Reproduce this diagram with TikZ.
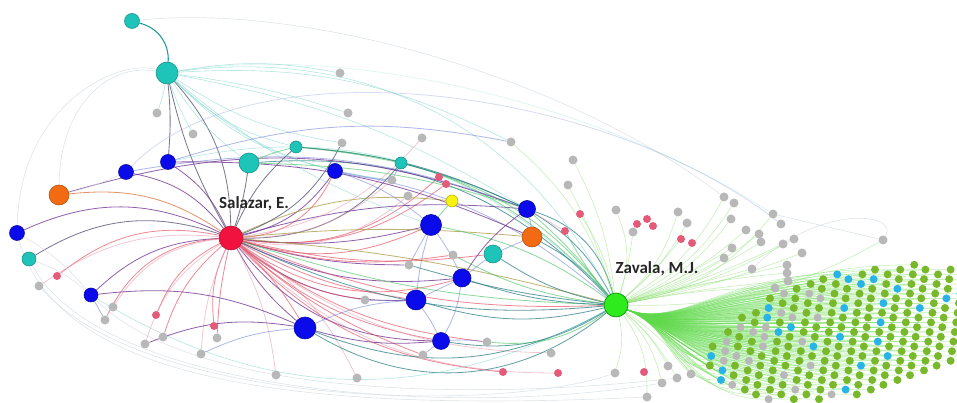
\documentclass[tikz,border=0pt]{standalone}
\usepackage{fontspec}
\newfontfamily\labfont{Carlito}
\newlength\pxl
\setlength\pxl{0.03cm}
\definecolor{cteal}{HTML}{1FC4B8}
\definecolor{cblue}{HTML}{0A0AEB}
\definecolor{corange}{HTML}{F26B12}
\definecolor{cyellow}{HTML}{F7F20F}
\definecolor{cred}{HTML}{F2123F}
\definecolor{cgreenZ}{HTML}{2EEB1E}
\definecolor{cgrey}{HTML}{B8B8B8}
\definecolor{cpink}{HTML}{E45A78}
\definecolor{cgdot}{HTML}{78B82A}
\definecolor{cbdot}{HTML}{2AB4E6}
\definecolor{epurple}{HTML}{6B2C8E}
\definecolor{ered}{HTML}{E24A5E}
\definecolor{epink}{HTML}{E79AAE}
\definecolor{enavy}{HTML}{4A4A6A}
\definecolor{eorange}{HTML}{D8703A}
\definecolor{eolive}{HTML}{A89A40}
\definecolor{eteal}{HTML}{2D7F86}
\definecolor{egreen}{HTML}{3DBF5A}
\definecolor{etlight}{HTML}{7FD6CC}
\definecolor{eblue}{HTML}{6070D0}
\definecolor{elgreen}{HTML}{8DDF72}
\definecolor{ebg}{HTML}{D5DDE3}
\definecolor{zfan}{HTML}{5FD84A}
\pgfdeclarelayer{bg}
\pgfsetlayers{bg,main}
\begin{document}
\begin{tikzpicture}[x=0.03cm,y=0.03cm,
  v/.style={circle,inner sep=0pt,line width=0.5pt},
  vteal/.style={v,fill=cteal,draw=cteal!75!black},
  vblue/.style={v,fill=cblue,draw=cblue!70!black},
  vorange/.style={v,fill=corange,draw=corange!75!black},
  vyellow/.style={v,fill=cyellow,draw=cyellow!75!black},
  vgrey/.style={circle,inner sep=0pt,fill=cgrey,minimum size=9\pxl},
  vpink/.style={circle,inner sep=0pt,fill=cpink,minimum size=8\pxl},
  gdot/.style={circle,inner sep=0pt,fill=cgdot,minimum size=8\pxl},
  bdot/.style={circle,inner sep=0pt,fill=cbdot,minimum size=8\pxl},
  grdot/.style={circle,inner sep=0pt,fill=cgrey,minimum size=8\pxl},
  e/.style={line width=0.7pt,opacity=0.75},
  ep/.style={e,draw=epurple},
  er/.style={e,draw=ered,opacity=0.65},
  epk/.style={e,draw=epink,opacity=0.55},
  en/.style={e,draw=enavy},
  eo/.style={e,draw=eorange},
  eol/.style={e,draw=eolive},
  et/.style={e,draw=eteal},
  eg/.style={e,draw=egreen,opacity=0.6},
  etl/.style={line width=0.5pt,draw=etlight,opacity=0.6},
  ett/.style={line width=0.9pt,draw=cteal!80!black},
  eb/.style={e,draw=eblue,opacity=0.5},
  elg/.style={line width=0.5pt,draw=elgreen,opacity=0.5},
  bgarc/.style={line width=0.5pt,draw=ebg,opacity=0.8},
  zf/.style={line width=0.45pt,draw=zfan,opacity=0.4},
  lab/.style={font=\labfont\bfseries\fontsize{14.5}{17}\selectfont,text=black!85,inner sep=1pt}
]
\useasboundingbox (0,0) rectangle (957,403);
\clip (0,0) rectangle (957,403);

% main nodes
\node[v,fill=cred,draw=cred!75!black,minimum size=24\pxl] (S) at (231,165) {};
\node[v,fill=cgreenZ,draw=green!50!black,minimum size=24\pxl] (Z) at (616,98) {};
\foreach \n/\x/\y/\d in {t1/132/382/15,t2/167/330/22,t3/249/240/20,t4/296/256/12,t5/401/240/12,t6/493/149/18,t7/29/144/14}
  \node[vteal,minimum size=\d\pxl] (\n) at (\x,\y) {};
\foreach \n/\x/\y/\d in {o1/59/208/20,o2/532/166/20}
  \node[vorange,minimum size=\d\pxl] (\n) at (\x,\y) {};
\node[vyellow,minimum size=12\pxl] (y1) at (452,202) {};
\foreach \n/\x/\y/\d in {b1/126/231/15,b2/168/241/15,b3/335/232/15,b4/17/170/15,b5/91/108/14,b6/431/178/21,b7/527/194/17,b8/462/125/18,b9/416/103/20,b10/305/75/22,b11/441/62/17}
  \node[vblue,minimum size=\d\pxl] (\n) at (\x,\y) {};
\foreach \n/\x/\y in {ga/340/330,gb/348/290,gc/157/290,gd/193/269,ge/342/260,gf/422/265,gg/392/223,gh/408/207,gi/511/261,gj/573/243,gk/568/218,gl/724/206,gm/734/200,gn/39/117,go/113/96,gp/105/83,gq/145/59,gr/163/66,gs/201/49,gt/217/65,gu/276/28,gv/357/25,gw/423/48,gx/365/103,gy/409/138,gz/453/148,hA/616/193,hB/678/191,hC/687/180,hD/633/171,hE/773/189,hF/781/179,hG/731/184,hH/746/173,hI/759/169,hJ/761/161,hK/783/159,hL/794/164,hM/732/155,hN/724/145,hO/802/150,hP/752/134,hQ/787/138,hR/787/130,hS/883/163,hT/775/115,hU/487/61,hV/551/50,hW/615/30,hX/662/20,hY/647/6,hZ/668/37,iA/677/25,iB/691/29,iC/788/122}
  \node[vgrey] (\n) at (\x,\y) {};
\foreach \n/\x/\y in {pa/439/226,pb/446/219,pc/57/127,pd/156/88,pe/214/77,pf/580/189,pg/637/179,ph/647/184,pi/653/177,pj/681/164,pk/692/160,pl/565/172,pm/503/31,pn/558/30,po/644/31}
  \node[vpink] (\n) at (\x,\y) {};

% labels
\node[lab] (lS) at (254,199) {Salazar, E.};
\node[lab] (lZ) at (657,134) {Zavala, M.J.};

% cluster of small nodes with the fan from Zavala
\foreach \i in {0,...,22}{
 \foreach \j in {0,...,14}{
  \pgfmathsetmacro\xx{700+12.6*\i-1.4*\j}
  \pgfmathsetmacro\yy{143-9.6*\j-4.8*mod(\i,2)}
  \pgfmathsetmacro\uu{((\xx-858)*0.978+(\yy-70)*0.208)/152}
  \pgfmathsetmacro\vv{(-(\xx-858)*0.208+(\yy-70)*0.978)/62}
  \pgfmathtruncatemacro\inside{(\uu*\uu+\vv*\vv<1)?1:0}
  \pgfmathtruncatemacro\hh{mod(\i*37+\j*23+\i*\j*11,29)}
  \pgfmathtruncatemacro\kind{(\hh<3)?1:(((\hh<9)&&(\xx<835))?2:0)}
  \pgfmathsetmacro\cx{-0.5*(\xx-616)}
  \ifnum\inside=1
    \ifcase\kind
      \node[gdot] (c\i-\j) at (\xx,\yy) {};
    \or
      \node[bdot] (c\i-\j) at (\xx,\yy) {};
    \or
      \node[grdot] (c\i-\j) at (\xx,\yy) {};
    \fi
    \begin{pgfonlayer}{bg}
      \draw[zf] (Z) .. controls +(60,-25) and +(\cx,0) .. (c\i-\j);
    \end{pgfonlayer}
  \fi
 }
}

\begin{pgfonlayer}{bg}
% faint background arcs
\draw[bgarc] (t1) .. controls (300,400) and (560,330) .. (gl);
\draw[bgarc] (o1) .. controls (60,300) and (110,340) .. (t2);
\draw[bgarc] (b4) .. controls (20,300) and (120,345) .. (t2);
\draw[bgarc] (b4) .. controls (60,20) and (300,-10) .. (hY);
\draw[bgarc] (gn) .. controls (150,-5) and (500,-10) .. (hW);
\draw[bgarc] (t7) .. controls (100,10) and (450,-15) .. (hX);
\draw[bgarc] (b5) .. controls (200,0) and (500,5) .. (iA);
\draw[etl,opacity=0.3] (t2) .. controls (350,360) and (600,300) .. (hE);
\draw[eb,opacity=0.25] (b1) .. controls (250,360) and (600,320) .. (hF);
\draw[bgarc] (hP) .. controls (820,200) and (900,190) .. (hS);
\draw[bgarc] (hE) -- (hS);

% edges of Salazar
\foreach \t/\s/\bd in {b4/ep/-25,t7/en/-25,o1/eo/-20,b1/ep/-20,b2/ep/-15,t2/en/-20,t2/en/8,t3/en/-5,t4/en/12,b3/ep/-20,b3/er/-30,t5/en/-25,pa/er/-25,pb/er/-22,gg/epk/-20,gh/epk/-25,y1/eol/15,b6/ep/-10,b6/er/-20,b7/ep/10,o2/eol/5,t6/er/-10,b8/ep/-15,b8/er/-25,b9/er/-10,b9/ep/-20,b11/er/-15,b11/ep/-25,b10/ep/-10,b10/er/8,Z/eol/5,Z/er/-12,b5/ep/-20,pc/er/-25,pd/er/-20,pe/er/-15,gn/epk/-20,go/epk/-25,gp/er/-30,gq/epk/-20,gr/er/-15,gs/epk/-10,gt/er/-5,gu/epk/10,gv/epk/15,gw/er/-10,gx/er/-15,gy/ep/-8,gz/er/-12,hU/er/-15,hV/epk/-18,pm/er/-20,pn/epk/-22,gf/epk/-20,ge/en/-20}
  \draw[\s] (S) to[bend left=\bd] (\t);

% edges of Zavala
\foreach \t/\s/\bd in {b7/et/-15,b7/et/-28,b7/eg/-5,o2/et/-10,t6/et/10,b6/eg/-12,t5/eg/-18,t4/eg/-22,t3/et/-25,b3/eb/-15,S/et/15,S/eg/8,b10/et/25,b10/et/35,b9/et/15,b8/et/8,b11/et/20,b5/etl/30,hU/eg/20,gz/eg/10,gy/et/5,pl/eg/5,t2/etl/-35,b2/etl/-30,gi/elg/-15,gj/elg/-10,gk/elg/-5,hA/elg/-20,hB/elg/-15,hC/elg/-10,hD/elg/-5,hE/elg/-20,hG/elg/-15,hH/elg/-10,hI/elg/-10,hJ/elg/-8,hK/elg/-5,hL/elg/-8,hM/elg/-5,hN/elg/-5,hO/elg/-5,hP/elg/0,hQ/elg/0,hR/elg/5,hS/elg/-15,hT/elg/5,iC/elg/3,gl/elg/-15,gm/elg/-15,hW/elg/15,hX/elg/15,hZ/elg/10,iA/elg/10,iB/elg/8,hY/elg/18,pf/elg/-10,pj/elg/-5}
  \draw[\s] (Z) to[bend left=\bd] (\t);

% edges of the upper teal node
\foreach \t/\s/\bd in {t1/ett/-40,b2/en/5,gc/etl/5,gd/etl/-5,t3/etl/-10,t4/etl/-15,b3/etl/-15,ge/etl/-12,gg/etl/-18,ga/etl/10,gi/etl/15,b7/etl/10,b6/etl/-10,gb/etl/5}
  \draw[\s] (t2) to[bend left=\bd] (\t);

% other edges
\foreach \a/\b/\s/\bd in {o1/b7/ep/18,b1/b7/eb/15,b2/gi/eb/14,b2/o2/ep/12,t3/t4/eg/5,t3/b7/eg/8,t4/t5/eg/3,t5/b7/et/5,t4/b7/et/10,b6/b8/eb/5,b6/b9/eb/-5,b9/b11/eb/5,b8/b11/eb/10,b10/b9/eb/10,b10/b11/ep/-10,b10/b5/ep/-15,b5/gp/eb/0,b10/gs/eb/-10,b10/gq/ep/-15,b11/hU/eb/5,b8/t6/eb/0,t6/o2/eb/0,b7/o2/eb/5,b7/b8/ep/-10,b8/b9/eb/0,b6/gy/eb/0,b6/y1/eg/0,b3/b6/eb/10,b7/pl/epk/0,b11/gw/eb/0,b9/gx/eb/0,b3/gg/eb/-5,t5/gg/eb/0,b4/b5/bgarc/10,t7/b5/bgarc/10,o1/b1/bgarc/-5}
  \draw[\s] (\a) to[bend left=\bd] (\b);
\end{pgfonlayer}
\end{tikzpicture}
\end{document}
